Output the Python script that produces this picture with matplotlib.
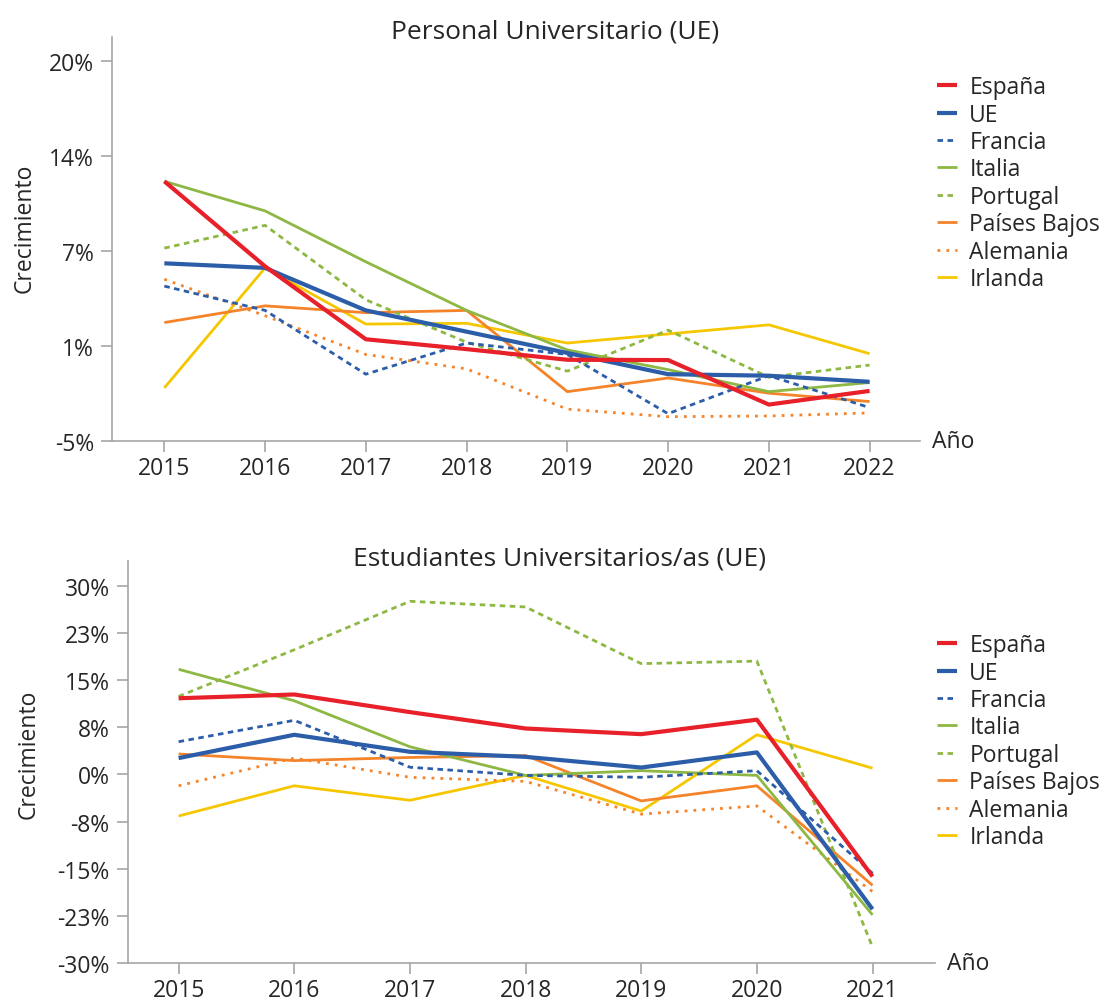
import numpy as np
import matplotlib.pyplot as plt

plt.rcParams['font.family'] = ['Open Sans', 'DejaVu Sans']

# datos - Personal Universitario (UE)
years_pers = [2015, 2016, 2017, 2018, 2019, 2020, 2021, 2022]
pers_espana = [12.1, 6.5, 1.7, 1.05, 0.35, 0.33, -2.6, -1.7]
pers_ue = [6.7, 6.4, 3.6, 2.2, 0.8, -0.6, -0.7, -1.1]
pers_francia = [5.2, 3.6, -0.6, 1.45, 0.7, -3.2, -0.7, -2.8]
pers_italia = [12.1, 10.15, 6.8, 3.6, 1.0, -0.3, -1.75, -1.15]
pers_portugal = [7.7, 9.2, 4.3, 1.5, -0.4, 2.3, -0.8, 0.0]
pers_paises_bajos = [2.8, 3.9, 3.45, 3.6, -1.75, -0.85, -1.85, -2.4]
pers_alemania = [5.65, 3.25, 0.7, -0.25, -2.9, -3.4, -3.35, -3.15]
pers_irlanda = [-1.5, 6.4, 2.7, 2.75, 1.45, 2.05, 2.65, 0.75]

# datos - Estudiantes Universitarios/as (UE)
years_est = [2015, 2016, 2017, 2018, 2019, 2020, 2021]
est_espana = [12.1, 12.7, 9.9, 7.3, 6.4, 8.7, -16.2]
est_ue = [2.6, 6.3, 3.6, 2.8, 1.1, 3.5, -21.4]
est_francia = [5.2, 8.6, 1.15, -0.15, -0.45, 0.6, -15.7]
est_italia = [16.7, 11.7, 4.4, -0.15, 0.6, -0.15, -22.3]
est_portugal = [12.4, 19.8, 27.5, 26.6, 17.6, 18.0, -27.4]
est_paises_bajos = [3.25, 2.2, 2.7, 3.0, -4.2, -1.8, -17.6]
est_alemania = [-1.8, 2.6, -0.45, -1.1, -6.3, -5.0, -18.6]
est_irlanda = [-6.6, -1.8, -4.1, -0.15, -5.8, 6.3, 1.0]

labels = ["España", "UE", "Francia", "Italia", "Portugal",
          "Países Bajos", "Alemania", "Irlanda"]
pers_ticklabels = ["-5%", "1%", "7%", "14%", "20%"]
est_ticklabels = ["-30%", "-23%", "-15%", "-8%", "0%", "8%", "15%", "23%", "30%"]

RED = "#E8202A"
BLUE = "#2C5DA9"
GREEN = "#8DB843"
ORANGE = "#F5832A"
YELLOW = "#F6C700"
GRAY = "#A6A6A6"
TXT = "#262626"

styles = [
    dict(color=RED, lw=3.0, ls="-"),
    dict(color=BLUE, lw=3.0, ls="-"),
    dict(color=BLUE, lw=2.0, ls=(0, (2.0, 1.6))),
    dict(color=GREEN, lw=2.0, ls="-"),
    dict(color=GREEN, lw=2.0, ls=(0, (2.0, 1.6))),
    dict(color=ORANGE, lw=2.0, ls="-"),
    dict(color=ORANGE, lw=2.0, ls=(0, (1.0, 2.2))),
    dict(color=YELLOW, lw=2.0, ls="-"),
]


def draw_panel(ax, years, series, yticks, yticklabels, ylim, xlim, label_xy):
    lines = []
    # dibujar en orden inverso para que España quede encima
    for vals, st, lab in reversed(list(zip(series, styles, labels))):
        ln, = ax.plot(years, vals, label=lab, solid_capstyle="butt",
                      dash_capstyle="butt", **st)
        lines.append(ln)
    lines = lines[::-1]
    ax.set_xlim(*xlim)
    ax.set_ylim(*ylim)
    ax.set_xticks(years)
    ax.set_xticklabels([str(y) for y in years])
    ax.set_yticks(yticks)
    ax.set_yticklabels(yticklabels)
    for s in ["top", "right"]:
        ax.spines[s].set_visible(False)
    for s in ["left", "bottom"]:
        ax.spines[s].set_color(GRAY)
        ax.spines[s].set_linewidth(1.2)
    ax.tick_params(axis="both", colors=GRAY, length=8, width=1.2,
                   labelcolor=TXT, labelsize=16.5)
    ax.tick_params(axis="y", pad=5)
    ax.tick_params(axis="x", pad=2.5)
    ax.set_ylabel("Crecimiento", fontsize=16.5, color=TXT)
    ax.yaxis.set_label_coords(*label_xy)
    ax.annotate("Año", xy=(1.0, 0.0), xycoords="axes fraction",
                xytext=(9, 0), textcoords="offset points",
                ha="left", va="center", fontsize=16.5, color=TXT)
    return lines


fig = plt.figure(figsize=(11.04, 10.03), dpi=100)

ax1 = fig.add_axes([0.1014, 0.5593, 0.7319, 0.4028])
pers_series = [pers_espana, pers_ue, pers_francia, pers_italia, pers_portugal,
               pers_paises_bajos, pers_alemania, pers_irlanda]
lines1 = draw_panel(ax1, years_pers, pers_series, np.linspace(-5, 20, 5),
                    pers_ticklabels, (-5, 21.6), (2014.48, 2022.5),
                    (-0.093, 0.53))

ax2 = fig.add_axes([0.1157, 0.0385, 0.7312, 0.4012])
est_series = [est_espana, est_ue, est_francia, est_italia, est_portugal,
              est_paises_bajos, est_alemania, est_irlanda]
lines2 = draw_panel(ax2, years_est, est_series, np.linspace(-30, 30, 9),
                    est_ticklabels, (-30, 33.9), (2014.56, 2021.54),
                    (-0.108, 0.523))

fig.text(0.503, 0.968, "Personal Universitario (UE)", ha="center", va="center",
         fontsize=19, color=TXT)
fig.text(0.507, 0.4427, "Estudiantes Universitarios/as (UE)", ha="center",
         va="center", fontsize=19, color=TXT)

leg_kw = dict(frameon=False, fontsize=16.5, handlelength=0.85, handletextpad=0.55,
              labelspacing=0.15, borderaxespad=0, labelcolor=TXT)
fig.legend(lines1, labels, loc="upper left", bbox_to_anchor=(0.8406, 0.9332),
           **leg_kw)
fig.legend(lines2, labels, loc="upper left", bbox_to_anchor=(0.8406, 0.3769),
           **leg_kw)

fig.savefig("out.png", dpi=100)
